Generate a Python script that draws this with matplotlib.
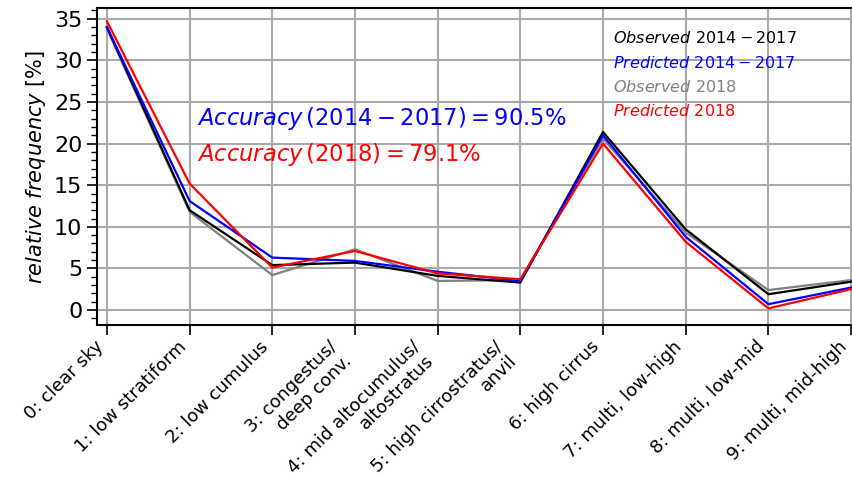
import matplotlib
matplotlib.use('Agg')
import matplotlib.pyplot as plt
from matplotlib.ticker import MultipleLocator
import numpy as np

categories = ['0: clear sky', '1: low stratiform', '2: low cumulus',
              '3: congestus/\ndeep conv.', '4: mid altocumulus/\naltostratus',
              '5: high cirrostratus/\nanvil', '6: high cirrus',
              '7: multi, low-high', '8: multi, low-mid', '9: multi, mid-high']

obs_1417 = [34.0, 12.0, 5.4, 5.7, 4.1, 3.3, 21.4, 9.7, 1.9, 3.4]
pred_1417 = [34.0, 13.1, 6.3, 5.9, 4.6, 3.5, 21.0, 8.8, 0.7, 2.7]
obs_2018 = [33.8, 11.8, 4.2, 7.3, 3.5, 3.6, 20.6, 9.3, 2.4, 3.6]
pred_2018 = [34.7, 15.2, 5.1, 7.1, 4.4, 3.7, 20.0, 8.2, 0.2, 2.5]

series = [
    (obs_1417, 'black', r'$Observed\ 2014-2017$'),
    (pred_1417, 'blue', r'$Predicted\ 2014-2017$'),
    (obs_2018, 'grey', r'$Observed\ 2018$'),
    (pred_2018, 'red', r'$Predicted\ 2018$'),
]

W, H = 852, 494
fig = plt.figure(figsize=(W / 100, H / 100), dpi=100)
ax = fig.add_axes([97 / W, 169 / H, (861 - 97) / W, (325 - 8) / H])

x = np.arange(len(categories))
for vals, col, lab in [series[2], series[0], series[1], series[3]]:
    ax.plot(x, vals, color=col, lw=1.6, zorder=3)

ax.set_xlim(-0.12, 9.12)
ax.set_ylim(-1.8, 36.3)
ax.yaxis.set_major_locator(MultipleLocator(5))
ax.yaxis.set_minor_locator(MultipleLocator(1))
ax.set_xticks(x)
ax.set_xticklabels(categories, rotation=45, ha='right', fontsize=13, linespacing=1.15)
ax.tick_params(axis='x', pad=2)
ax.tick_params(axis='y', labelsize=16)
ax.tick_params(which='major', length=7, width=1.2)
ax.tick_params(which='minor', length=4, width=1)
ax.grid(True, color='#aaaaaa', lw=1.5, zorder=0)
ax.set_ylabel(r'$relative\ frequency$ [%]', fontsize=15)
for s in ax.spines.values():
    s.set_linewidth(1.5)

# legend as coloured text
for i, (vals, col, lab) in enumerate(series):
    fig.text(613 / W, 1 - (38 + 24.5 * i) / H, lab, color=col, fontsize=11.5, va='center')

fig.text(197 / W, 1 - 119 / H, r'$Accuracy\,(2014-2017)=90.5\%$', color='blue',
         fontsize=16.3, va='center')
fig.text(197 / W, 1 - 155 / H, r'$Accuracy\,(2018)=79.1\%$', color='red',
         fontsize=16.3, va='center')

fig.savefig('out.png', dpi=100)
